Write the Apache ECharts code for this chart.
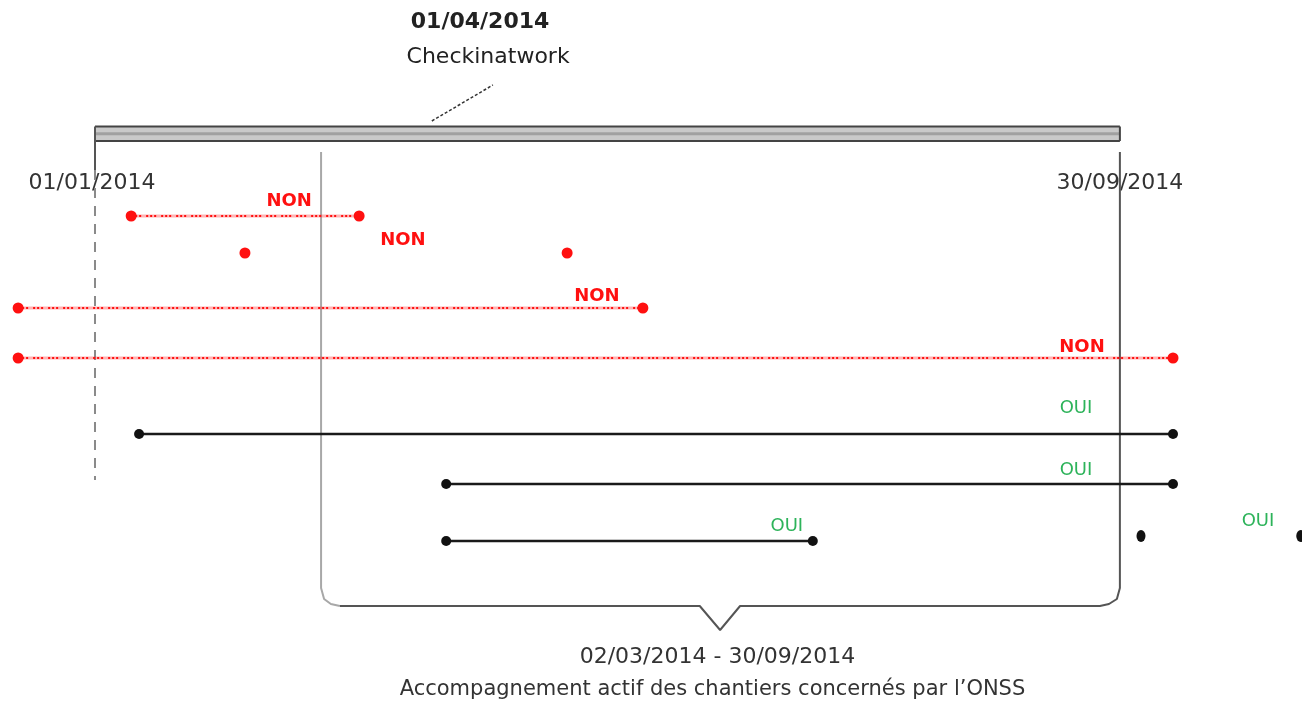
<!DOCTYPE html>
<html>
<head>
<meta charset="utf-8">
<script src="https://cdn.jsdelivr.net/npm/echarts@6/dist/echarts.min.js"></script>
<style>
html,body{margin:0;padding:0;background:#fff;}
#chart{width:1302px;height:704px;}
</style>
</head>
<body>
<div id="chart"></div>
<script>
// x values: days since 01/01/2014 ; y values: lane (row) positions
const nonSpanStart = [9.6, -20.4, -20.4];
const nonSpanEnd   = [70.1, 145.4, 286.1];
const nonSpanLane  = [1.0, 2.84, 3.84];
const nonDots      = [[39.8, 1.74], [125.3, 1.74]];

const ouiSpanStart = [11.7, 93.2, 93.2];
const ouiSpanEnd   = [286.1, 286.1, 190.5];
const ouiSpanLane  = [5.36, 6.36, 7.5];
const ouiDots      = [[277.6, 7.4], [320.0, 7.4]];

const keyDays = { start: 0, checkin: 90, accompStart: 60, end: 272 };

const dateLabels = ['01/01/2014', '30/09/2014'];
const titleLines = ['01/04/2014', 'Checkinatwork'];
const bottomLines = ['02/03/2014 - 30/09/2014', 'Accompagnement actif des chantiers concernés par l\u2019ONSS'];

const FONT = 'DejaVu Sans';
const RED = '#ff1010';
const GREEN = '#2db35a';

const nonOffsets = [[-70, -15], [-46, -12], [-91, -11]];
const ouiOffsets = [[-97, -26], [-97, -14], [-26, -15]];

const series = [];

// Top double bar (Checkinatwork timeline)
const barTop = -0.79, barBot = -0.5, barMid = -0.645;
series.push({type:'line', data:[[keyDays.start, barMid],[keyDays.end, barMid]], symbol:'none', lineStyle:{color:'#c9c9c9', width:14}, z:1, silent:true});
series.push({type:'line', data:[[keyDays.start, barMid],[keyDays.end, barMid]], symbol:'none', lineStyle:{color:'#a0a0a0', width:3}, z:1, silent:true});
series.push({type:'line', data:[[keyDays.start, barTop],[keyDays.end, barTop]], symbol:'none', lineStyle:{color:'#444', width:2}, z:2, silent:true});
series.push({type:'line', data:[[keyDays.start, barBot],[keyDays.end, barBot]], symbol:'none', lineStyle:{color:'#444', width:2}, z:2, silent:true});
series.push({type:'line', data:[[keyDays.end, barTop],[keyDays.end, barBot]], symbol:'none', lineStyle:{color:'#444', width:2}, z:2, silent:true});
// left vertical at 01/01/2014
series.push({type:'line', data:[[keyDays.start, barTop],[keyDays.start, 0.08]], symbol:'none', lineStyle:{color:'#555', width:2}, z:3, silent:true});
series.push({type:'line', data:[[keyDays.start, 0.08],[keyDays.start, 6.28]], symbol:'none', lineStyle:{color:'#8a8a8a', width:2, type:[10,8]}, z:3, silent:true});
// leader line to checkinatwork
series.push({type:'line', data:[[89.4, -0.9],[105.6, -1.62]], symbol:'none', lineStyle:{color:'#333', width:1.5, type:[3,2]}, z:3, silent:true});

// Bracket
series.push({type:'line', data:[[keyDays.accompStart, -0.28],[keyDays.accompStart, 8.44],[60.8, 8.66],[62.6, 8.76],[65, 8.8]], symbol:'none', lineStyle:{color:'#a8a8a8', width:2}, z:3, silent:true});
series.push({type:'line', data:[[65, 8.8],[160.5, 8.8],[165.9, 9.28],[171.2, 8.8],[266.7, 8.8],[269.1, 8.76],[271.2, 8.66],[keyDays.end, 8.44],[keyDays.end, -0.28]], symbol:'none', lineStyle:{color:'#555', width:2}, z:3, silent:true});

// NON spans
for (let i = 0; i < nonSpanStart.length; i++) {
  const d = [[nonSpanStart[i], nonSpanLane[i]], [nonSpanEnd[i], nonSpanLane[i]]];
  series.push({type:'line', data:d, symbol:'none', lineStyle:{color:'rgba(255,40,40,0.35)', width:3}, z:4, silent:true});
  series.push({type:'line', data:[d[0], {value:d[1], label:{show:true, position:'inside', formatter:'NON', offset:nonOffsets[i], color:RED, fontFamily:FONT, fontSize:18, fontWeight:'bold'}}],
    symbol:'circle', symbolSize:11, showSymbol:true, itemStyle:{color:RED, opacity:1}, lineStyle:{color:RED, width:2, type:[2,2,2,2,2,5]}, z:5, silent:true});
}
// NON isolated dots
series.push({type:'scatter', data:[{value:nonDots[0], label:{show:true, position:'inside', formatter:'NON', offset:[158,-13], color:RED, fontFamily:FONT, fontSize:18, fontWeight:'bold'}}, nonDots[1]],
  symbol:'circle', symbolSize:11, itemStyle:{color:RED, opacity:1}, z:5, silent:true});

// OUI spans
for (let i = 0; i < ouiSpanStart.length; i++) {
  const d = [[ouiSpanStart[i], ouiSpanLane[i]], [ouiSpanEnd[i], ouiSpanLane[i]]];
  series.push({type:'line', data:[d[0], {value:d[1], label:{show:true, position:'inside', formatter:'OUI', offset:ouiOffsets[i], color:GREEN, fontFamily:FONT, fontSize:18}}],
    symbol:'circle', symbolSize:10, showSymbol:true, itemStyle:{color:'#111', opacity:1}, lineStyle:{color:'#1a1a1a', width:2.5}, z:5, silent:true});
}
// OUI isolated dots
series.push({type:'scatter', data:[{value:ouiDots[0], label:{show:true, position:'inside', formatter:'OUI', offset:[117,-15], color:GREEN, fontFamily:FONT, fontSize:18}}, ouiDots[1]],
  symbol:'circle', symbolSize:[9,12], itemStyle:{color:'#111', opacity:1}, z:5, silent:true});

const chart = echarts.init(document.getElementById('chart'), null, {renderer:'canvas'});
chart.setOption({
  animation:false,
  backgroundColor:'#fff',
  grid:{left:0, right:0, top:0, bottom:0},
  xAxis:{type:'value', min:-25.21, max:320.33, show:false},
  yAxis:{type:'value', inverse:true, min:-3.32, max:10.76, show:false},
  series: series
});

// texts positioned through the chart scale
function px(day, lane){ return chart.convertToPixel({gridIndex:0}, [day, lane]); }
const pStart = px(keyDays.start, 0.34);
const pEnd = px(keyDays.end, 0.34);
const pCheck = px(102.2, -2.88);
const pBottom = px(165.2, 9.82);
const txt = (x, y, text, extra) => Object.assign({type:'text', x:x, y:y, z:1, style:Object.assign({text:text, fontFamily:FONT, fontSize:22, fill:'#333', align:'center', verticalAlign:'middle'}, extra || {})});
chart.setOption({
  graphic:[
    txt(pStart[0]-3, pStart[1], dateLabels[0]),
    txt(pEnd[0], pEnd[1], dateLabels[1]),
    txt(pCheck[0], pCheck[1], titleLines[0], {fontWeight:'bold', fill:'#222'}),
    txt(pCheck[0]+8, pCheck[1]+35, titleLines[1], {fill:'#222'}),
    txt(pBottom[0], pBottom[1], bottomLines[0], {fontSize:22}),
    txt(pBottom[0]-5, pBottom[1]+33, bottomLines[1], {fontSize:21})
  ]
});
</script>
</body>
</html>
